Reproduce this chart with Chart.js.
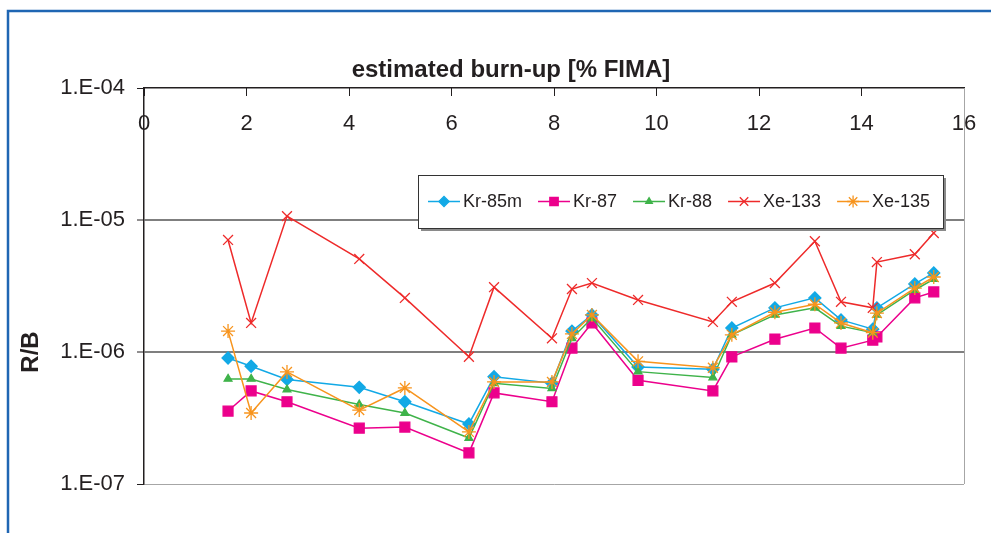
<!DOCTYPE html>
<html>
<head>
<meta charset="utf-8">
<title>R/B x burn-up</title>
<script src="https://cdn.jsdelivr.net/npm/chart.js@4.4.1/dist/chart.umd.min.js"></script>
<style>
	html, body { margin: 0; padding: 0; background: #fff; }
	#graficoRB { display: block; }
</style>
</head>
<body>
<canvas id="graficoRB" width="991" height="533"></canvas>
<script>
// burn-up estimado [% FIMA] de cada medida
var queimas = [1.64, 2.09, 2.79, 4.2, 5.09, 6.34, 6.83, 7.96, 8.35, 8.74, 9.64, 11.1, 11.47, 12.31, 13.09, 13.6, 14.22, 14.3, 15.04, 15.41];

var kr85m = [9.0e-7, 7.8e-7, 6.2e-7, 5.4e-7, 4.2e-7, 2.85e-7, 6.5e-7, 5.8e-7, 1.44e-6, 1.91e-6, 7.7e-7, 7.4e-7, 1.52e-6, 2.16e-6, 2.57e-6, 1.75e-6, 1.49e-6, 2.16e-6, 3.28e-6, 3.97e-6];
var kr87 = [3.57e-7, 5.07e-7, 4.2e-7, 2.65e-7, 2.7e-7, 1.72e-7, 4.9e-7, 4.2e-7, 1.07e-6, 1.66e-6, 6.1e-7, 5.07e-7, 9.2e-7, 1.25e-6, 1.52e-6, 1.07e-6, 1.23e-6, 1.3e-6, 2.57e-6, 2.85e-6];
var kr88 = [6.25e-7, 6.25e-7, 5.2e-7, 4.0e-7, 3.45e-7, 2.23e-7, 5.8e-7, 5.3e-7, 1.27e-6, 1.81e-6, 7.1e-7, 6.4e-7, 1.35e-6, 1.91e-6, 2.16e-6, 1.57e-6, 1.4e-6, 1.91e-6, 2.95e-6, 3.57e-6];
var xe133 = [7.06e-6, 1.66e-6, 1.07e-5, 5.07e-6, 2.57e-6, 9.2e-7, 3.1e-6, 1.27e-6, 3.0e-6, 3.33e-6, 2.48e-6, 1.69e-6, 2.4e-6, 3.33e-6, 6.9e-6, 2.4e-6, 2.16e-6, 4.8e-6, 5.5e-6, 7.97e-6];
var xe135 = [1.44e-6, 3.45e-7, 7.06e-7, 3.63e-7, 5.34e-7, 2.48e-7, 5.93e-7, 5.93e-7, 1.37e-6, 1.91e-6, 8.5e-7, 7.6e-7, 1.35e-6, 2.0e-6, 2.3e-6, 1.66e-6, 1.4e-6, 1.97e-6, 3.05e-6, 3.7e-6];

var nomesSeries = ['Kr-85m', 'Kr-87', 'Kr-88', 'Xe-133', 'Xe-135'];
var xTicks = [0, 2, 4, 6, 8, 10, 12, 14, 16];
var yTicks = [1e-7, 1e-6, 1e-5, 1e-4];
var yRotulos = ['1.E-07', '1.E-06', '1.E-05', '1.E-04'];
var tituloX = 'estimated burn-up [% FIMA]';
var tituloY = 'R/B';

var FONTE = "'Liberation Sans', Arial, Helvetica, sans-serif";
var PRETO = '#231f20';

var Grafico = Grafico || {};

Grafico.RB = (function() {

	function RB() {
		this.ctx = document.getElementById('graficoRB').getContext('2d');
	}

	function pontos(valores) {
		return valores.map(function(v, i) {
			return { x: queimas[i], y: v };
		});
	}

	function serie(indice, valores, cor, estilo, raio) {
		return {
			label: nomesSeries[indice],
			data: pontos(valores),
			showLine: true,
			borderColor: cor,
			backgroundColor: cor,
			borderWidth: 1.5,
			pointStyle: estilo,
			pointRadius: raio,
			pointBackgroundColor: cor,
			pointBorderColor: cor,
			pointBorderWidth: 1.3,
			tension: 0,
			order: 5 - indice
		};
	}

	// moldura azul (canto superior esquerdo) e borda direita da area do grafico
	var moldura = {
		id: 'moldura',
		beforeDraw: function(chart) {
			var ctx = chart.ctx;
			ctx.save();
			ctx.strokeStyle = '#1f66b3';
			ctx.lineWidth = 2.5;
			ctx.beginPath();
			ctx.moveTo(8, chart.height);
			ctx.lineTo(8, 11);
			ctx.lineTo(chart.width, 11);
			ctx.stroke();
			ctx.restore();
		},
		beforeDatasetsDraw: function(chart) {
			var a = chart.chartArea;
			var ctx = chart.ctx;
			ctx.save();
			ctx.strokeStyle = '#a6a6a6';
			ctx.lineWidth = 1;
			ctx.beginPath();
			ctx.moveTo(a.right + 0.5, a.top);
			ctx.lineTo(a.right + 0.5, a.bottom);
			ctx.stroke();
			ctx.restore();
		}
	};

	var titulos = {
		id: 'titulos',
		afterDraw: function(chart) {
			var ctx = chart.ctx;
			ctx.save();
			ctx.fillStyle = PRETO;
			ctx.font = 'bold 24px ' + FONTE;
			ctx.textAlign = 'center';
			ctx.textBaseline = 'middle';
			ctx.fillText(tituloX, 511, 70);

			ctx.translate(31, 352);
			ctx.rotate(-Math.PI / 2);
			ctx.fillText(tituloY, 0, 0);
			ctx.restore();
		}
	};

	// legenda desenhada dentro da area do grafico, com sombra
	var legenda = {
		id: 'legendaInterna',
		afterDraw: function(chart) {
			var ctx = chart.ctx;
			var x0 = 418, y0 = 175, x1 = 943, y1 = 228;
			var meio = (y0 + y1) / 2;
			ctx.save();
			ctx.fillStyle = '#8a8a8a';
			ctx.fillRect(x0 + 3, y0 + 3, x1 - x0, y1 - y0);
			ctx.fillStyle = '#fff';
			ctx.fillRect(x0, y0, x1 - x0, y1 - y0);
			ctx.strokeStyle = '#333';
			ctx.lineWidth = 1;
			ctx.strokeRect(x0 + 0.5, y0 + 0.5, x1 - x0, y1 - y0);

			ctx.font = '18px ' + FONTE;
			ctx.textBaseline = 'middle';
			ctx.textAlign = 'left';
			var x = 428;
			chart.data.datasets.forEach(function(ds) {
				ctx.strokeStyle = ds.borderColor;
				ctx.fillStyle = ds.pointBackgroundColor;
				ctx.lineWidth = 1.5;
				ctx.beginPath();
				ctx.moveTo(x, meio);
				ctx.lineTo(x + 32, meio);
				ctx.stroke();
				if (Chart.helpers && Chart.helpers.drawPoint) {
					ctx.lineWidth = ds.pointBorderWidth;
					Chart.helpers.drawPoint(ctx, {
						pointStyle: ds.pointStyle,
						radius: ds.pointRadius * 0.85,
						rotation: 0,
						borderWidth: ds.pointBorderWidth
					}, x + 16, meio);
				}
				ctx.fillStyle = PRETO;
				ctx.fillText(ds.label, x + 35, meio + 1);
				x += 35 + ctx.measureText(ds.label).width + 16;
			});
			ctx.restore();
		}
	};

	RB.prototype.iniciar = function() {
		new Chart(this.ctx, {
			type: 'scatter',
			data: {
				datasets: [
					serie(0, kr85m, '#12a9e6', 'rectRot', 6),
					serie(1, kr87, '#ec008c', 'rect', 7),
					serie(2, kr88, '#3fb34a', 'triangle', 4.5),
					serie(3, xe133, '#ee2a2a', 'crossRot', 7),
					serie(4, xe135, '#f7941d', 'star', 7)
				]
			},
			options: {
				responsive: false,
				animation: false,
				layout: {
					padding: { left: 0, top: 0, right: 27, bottom: 49 }
				},
				plugins: {
					legend: { display: false },
					title: { display: false },
					tooltip: { enabled: false }
				},
				scales: {
					x: {
						type: 'linear',
						position: 'top',
						min: 0,
						max: 16,
						afterBuildTicks: function(scale) {
							scale.ticks = xTicks.map(function(v) { return { value: v }; });
						},
						afterFit: function(scale) {
							scale.height = 88;
							scale.paddingLeft = 0;
							scale.paddingRight = 0;
						},
						border: { color: PRETO, width: 1.5 },
						grid: {
							drawOnChartArea: false,
							drawTicks: true,
							tickLength: -8,
							tickColor: PRETO,
							tickWidth: 1
						},
						ticks: {
							// rotulos ficam abaixo do eixo, dentro da area do grafico
							mirror: true,
							padding: 23,
							autoSkip: false,
							maxRotation: 0,
							color: PRETO,
							font: { family: FONTE, size: 22 }
						}
					},
					y: {
						type: 'logarithmic',
						position: 'left',
						min: 1e-7,
						max: 1e-4,
						afterBuildTicks: function(scale) {
							scale.ticks = yTicks.map(function(v) { return { value: v }; });
						},
						afterFit: function(scale) {
							scale.width = 144;
						},
						border: { color: PRETO, width: 1.5 },
						grid: {
							color: function(c) {
								var v = c.tick ? c.tick.value : null;
								if (v === 1e-5 || v === 1e-6) return '#7f7f7f';
								if (v === 1e-7) return '#a6a6a6';
								return 'rgba(0,0,0,0)';
							},
							lineWidth: function(c) {
								var v = c.tick ? c.tick.value : null;
								return (v === 1e-5 || v === 1e-6) ? 2 : 1;
							},
							tickColor: PRETO,
							tickLength: 7,
							tickWidth: 1
						},
						ticks: {
							padding: 12,
							color: PRETO,
							font: { family: FONTE, size: 22 },
							callback: function(value, index) {
								return yRotulos[index];
							}
						}
					}
				}
			},
			plugins: [moldura, titulos, legenda]
		});
	};

	return RB;

})();

var graficoRB = new Grafico.RB();
graficoRB.iniciar();
</script>
</body>
</html>
